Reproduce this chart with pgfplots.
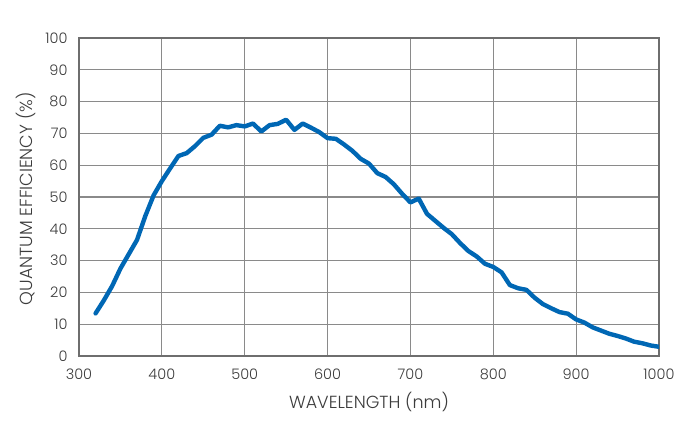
\documentclass[border=0pt]{standalone}
\usepackage{pgfplots}
\pgfplotsset{compat=1.18}
\usetikzlibrary{calc}
\usepackage{fontspec}
\setmainfont{Poppins}[UprightFont=* Light]
\definecolor{qeblue}{HTML}{0067B4}
\definecolor{gridgray}{HTML}{8A8A8A}
\definecolor{txt}{HTML}{3C3C3C}
\begin{document}
\begin{tikzpicture}
\begin{axis}[
  scale only axis,
  width=580pt, height=318pt,
  xmin=300, xmax=1000, ymin=0, ymax=100,
  xtick={300,400,...,1000}, ytick={0,10,...,100},
  grid=major,
  major grid style={gridgray, line width=1.2pt},
  axis line style={draw=gridgray!80!black, line width=1.4pt},
  tick style={draw=none},
  /pgf/number format/assume math mode=true,
  /pgf/number format/1000 sep={},
  ticklabel style={font=\fontsize{14.5}{16}\selectfont, text=txt},
  xticklabel style={yshift=-9.5pt},
  yticklabel style={xshift=-8pt},
  xlabel={WAVELENGTH (nm)},
  ylabel={QUANTUM EFFICIENCY (\%)},
  xlabel style={font=\fontsize{17.5}{20}\selectfont, text=txt, at={(axis description cs:0.5,-0.143)}, anchor=center},
  ylabel style={font=\fontsize{17.5}{20}\selectfont, text=txt, at={(axis description cs:-0.0914,0.494)}, anchor=center},
]
\addplot[qeblue, line width=4.4pt, line join=round, line cap=round] coordinates {
(320,13.4)(330,17.5)(340,22)(350,27.5)(360,32)(370,36.5)(380,44)(390,50.5)
(400,55)(410,59)(420,62.9)(430,63.8)(440,66)(450,68.6)(460,69.6)(470,72.4)
(480,71.9)(490,72.6)(500,72.2)(510,73.1)(520,70.6)(530,72.6)(540,73)(550,74.3)
(560,71.1)(570,73.1)(580,71.8)(590,70.4)(600,68.5)(610,68.3)(620,66.5)(630,64.5)
(640,62)(650,60.5)(660,57.5)(670,56.3)(680,54)(690,51)(700,48.3)(710,49.5)
(720,44.7)(730,42.5)(740,40.3)(750,38.3)(760,35.5)(770,33)(780,31.3)(790,29)
(800,28)(810,26.3)(820,22.3)(830,21.3)(840,20.8)(850,18.3)(860,16.3)(870,15)
(880,13.8)(890,13.3)(900,11.5)(910,10.5)(920,9)(930,8)(940,7)(950,6.3)
(960,5.5)(970,4.5)(980,4)(990,3.3)(1000,2.9)
};
\end{axis}
\useasboundingbox ($(current axis.south west)+(-79pt,-72pt)$) rectangle ($(current axis.north east)+(31pt,38pt)$);
\end{tikzpicture}
\end{document}
